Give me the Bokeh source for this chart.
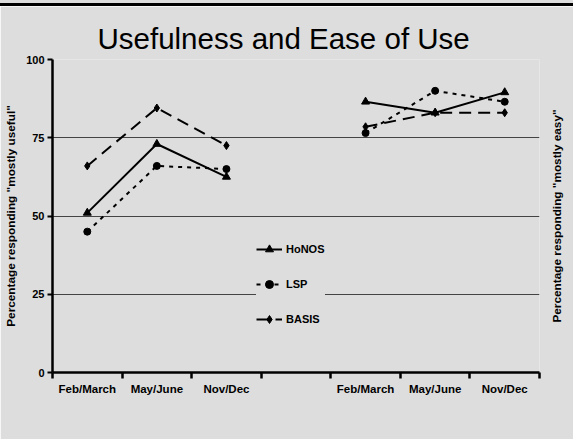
import math
from bokeh.plotting import figure
from bokeh.models import (ColumnDataSource, FixedTicker, LinearAxis, Legend,
                          LegendItem, Range1d, Div, Grid, Label)
from bokeh.layouts import column
from bokeh.embed import file_html
from bokeh.resources import INLINE

# survey periods, shown twice: usefulness block (left) and ease-of-use block (right)
periods = ["Feb/March", "May/June", "Nov/Dec"]

# percentage responding "mostly useful"
honos_useful = [51, 73, 62.5]
lsp_useful = [45, 66, 65]
basis_useful = [66, 84.5, 72.5]

# percentage responding "mostly easy"
honos_easy = [86.5, 83, 89.5]
lsp_easy = [76.5, 90, 86.5]
basis_easy = [78.5, 83, 83]

y_ticks = [0, 25, 50, 75, 100]

BG = "#dddddd"
FONT = "Liberation Sans"

# slot positions: three periods, an empty slot, three periods again
left_x = [i + 0.5 for i in range(len(periods))]
right_x = [i + 0.5 + len(periods) + 1 for i in range(len(periods))]
n_slots = 2 * len(periods) + 1

p = figure(width=573, height=433, output_backend="svg", toolbar_location=None,
           x_range=Range1d(0, n_slots), y_range=Range1d(0, 100),
           background_fill_color=BG, border_fill_color=BG,
           min_border_left=52, min_border_right=34, min_border_top=53,
           min_border_bottom=67, x_axis_type=None, y_axis_type=None)
p.outline_line_color = None

p.title.text = "Usefulness and Ease of Use"
p.title.text_font = FONT
p.title.text_font_size = "29.5px"
p.title.text_font_style = "normal"
p.title.align = "left"
p.title.offset = 45
p.title.text_color = "black"

# x axis: labels centred in slots, tick marks on slot boundaries
label_pos = left_x + right_x
xaxis = LinearAxis(ticker=FixedTicker(ticks=label_pos,
                                      minor_ticks=list(range(n_slots + 1))))
xaxis.major_label_overrides = {x: lab for x, lab in zip(label_pos, periods + periods)}
xaxis.major_tick_out = 0
xaxis.major_tick_in = 0
xaxis.minor_tick_out = 6
xaxis.minor_tick_in = 0
xaxis.minor_tick_line_width = 2.5
xaxis.minor_tick_line_color = "black"
xaxis.axis_line_width = 2.5
xaxis.axis_line_color = "black"
xaxis.major_label_text_font = FONT
xaxis.major_label_text_font_style = "bold"
xaxis.major_label_text_font_size = "11.5px"
xaxis.major_label_text_color = "black"
xaxis.major_label_standoff = 4
p.add_layout(xaxis, "below")

yaxis = LinearAxis(ticker=FixedTicker(ticks=y_ticks, minor_ticks=[]))
yaxis.axis_label = 'Percentage responding "mostly useful"'
yaxis.axis_label_text_font = FONT
yaxis.axis_label_text_font_style = "bold"
yaxis.axis_label_text_font_size = "11.8px"
yaxis.axis_label_text_color = "black"
yaxis.axis_label_standoff = 5
yaxis.major_tick_out = 5
yaxis.major_tick_in = 0
yaxis.major_tick_line_width = 2
yaxis.axis_line_width = 2.5
yaxis.axis_line_color = "black"
yaxis.major_label_text_font = FONT
yaxis.major_label_text_font_style = "bold"
yaxis.major_label_text_font_size = "11px"
yaxis.major_label_text_color = "black"
yaxis.major_label_standoff = 3
p.add_layout(yaxis, "left")

# secondary scale title, set in the right-hand margin reading upward
right_label = Label(x=n_slots, y=50, x_offset=17, angle=math.pi / 2,
                    text='Percentage responding "mostly easy"',
                    text_font=FONT, text_font_style="bold",
                    text_font_size="11.8px", text_color="black",
                    text_align="center", text_baseline="middle")
p.add_layout(right_label, "right")

# horizontal gridlines
grid = Grid(dimension=1, ticker=FixedTicker(ticks=y_ticks[1:]),
            grid_line_color="#444444", grid_line_width=1)
p.add_layout(grid)

series = [
    ("HoNOS", honos_useful, honos_easy, "solid", "triangle", 8),
    ("LSP", lsp_useful, lsp_easy, "4 5", "circle", 7),
    ("BASIS", basis_useful, basis_easy, "12 7", "diamond", 8),
]

items = []
for name, useful, easy, dash, marker, msize in series:
    renderers = []
    for xs, ys in ((left_x, useful), (right_x, easy)):
        src = ColumnDataSource(dict(x=xs, y=ys))
        ln = p.line("x", "y", source=src, line_color="black", line_width=2,
                    line_dash=dash)
        mk = p.scatter("x", "y", source=src, marker=marker, size=msize,
                       fill_color="black", line_color="black")
        renderers += [ln, mk]
    items.append(LegendItem(label=name, renderers=renderers[:2]))

legend = Legend(items=items, location=(204, 43),
                background_fill_color=BG, background_fill_alpha=1,
                border_line_color=None, label_text_font=FONT,
                label_text_font_style="bold", label_text_font_size="11px",
                label_text_color="black",
                glyph_width=26, glyph_height=20, label_height=20,
                spacing=15, padding=6, margin=0, label_standoff=4)
p.add_layout(legend, "center")

# thin black rule across the top of the page
bar = Div(width=573, height=6, text="",
          styles={"background": "linear-gradient(to bottom, #dddddd 0px, #dddddd 3px,"
                                " #000000 3px, #000000 6px)",
                  "margin": "0", "padding": "0"})

layout = column(bar, p, spacing=0)
open("out.html", "w").write(file_html(layout, INLINE))
